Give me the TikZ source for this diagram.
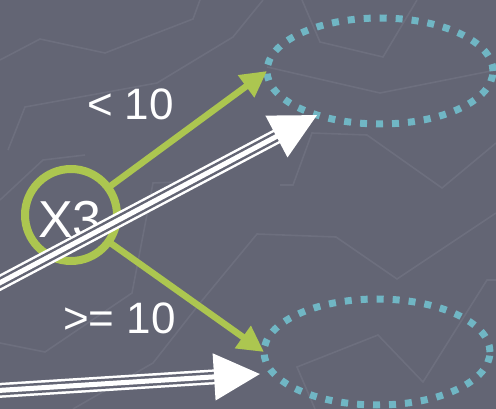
\documentclass[tikz,border=0pt]{standalone}
\usepackage{fontspec}
\setmainfont{Liberation Sans}
\usetikzlibrary{arrows.meta,shapes.geometric}
\definecolor{bgc}{RGB}{99,101,116}
\definecolor{faint}{RGB}{109,111,126}
\definecolor{lgreen}{RGB}{172,198,80}
\definecolor{dteal}{RGB}{112,182,196}
\tikzset{
  faintline/.style={draw=faint, line width=1.6pt, line join=miter},
  dotell/.style={ellipse, draw=dteal, line width=7pt, dash pattern=on 7pt off 9pt,
     minimum width=226pt, minimum height=106pt, inner sep=0pt, outer sep=0pt},
  xcirc/.style={circle, draw=lgreen, line width=8pt, minimum size=92pt, inner sep=0pt, outer sep=0pt},
  garrow/.style={draw=lgreen, line width=6.5pt, -{Triangle[length=26pt,width=26pt]}},
  lbl/.style={text=white, font=\fontsize{44}{44}\selectfont, inner sep=0pt, anchor=base},
  xlbl/.style={text=white, font=\fontsize{52}{52}\selectfont, inner sep=0pt, anchor=base},
  wshaft/.style={draw=white, line width=2.5pt, double=bgc, double distance=10pt, shorten >=38pt},
  wmid/.style={draw=white, line width=5pt, -{Triangle[length=46pt,width=46pt]}}
}
\begin{document}
\begin{tikzpicture}[x=1pt,y=-1pt]
\useasboundingbox (0,0) rectangle (496,409);
\fill[bgc] (0,0) rectangle (496,409);
\clip (0,0) rectangle (496,409);
% faint background texture
\draw[faintline] (0,60) -- (40,39) -- (105,53) -- (193,19) -- (200,0);
\draw[faintline] (8,150) -- (25,107) -- (157,83) -- (233,37) -- (263,0);
\draw[faintline] (302,0) -- (320,42) -- (383,57) -- (417,0);
\draw[faintline] (267,67) -- (380,93) -- (496,70);
\draw[faintline] (280,185) -- (293,185) -- (312,133) -- (367,135) -- (442,188) -- (496,143);
\draw[faintline] (0,200) -- (43,160) -- (85,155);
\draw[faintline] (200,181) -- (153,183) -- (132,293) -- (45,352) -- (0,343);
\draw[faintline] (73,409) -- (153,363) -- (200,303) -- (257,234) -- (336,237) -- (397,279) -- (496,213);
\draw[faintline] (496,280) -- (487,280) -- (423,382) -- (378,335) -- (297,367) -- (315,409);
% target ellipses
\node[dotell] (e1) at (380,71) {};
\node[dotell] (e2) at (377,352) {};
% decision node
\node[xcirc] (x3) at (71,215) {};
\node[xlbl] (x3t) at (70,238) {X3};
% green branches
\draw[garrow] (x3) -- (e1.west);
\draw[garrow] (x3) -- (e2.west);
\node[lbl] (l1) at (130.5,120) {< 10};
\node[lbl] (l2) at (119.5,333) {>= 10};
% white arrows
\coordinate (ta) at (-10,288);
\coordinate (tb) at (-10,391);
\coordinate (tipb) at (260,374);
\draw[wshaft] (ta) -- (e1.215);
\draw[wmid] (ta) -- (e1.215);
\draw[wshaft] (tb) -- (tipb);
\draw[wmid] (tb) -- (tipb);
\end{tikzpicture}
\end{document}
